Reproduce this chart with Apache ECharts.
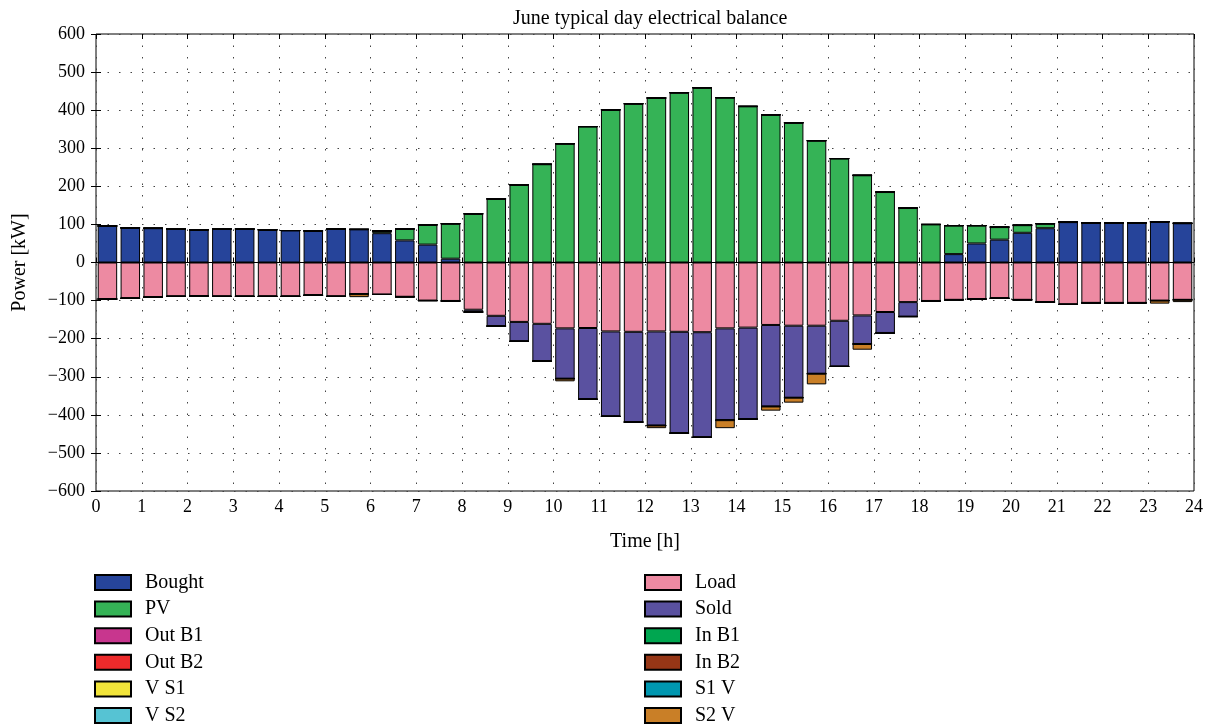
<!DOCTYPE html>
<html lang="en">
<head>
  <meta charset="UTF-8">
  <title>June typical day electrical balance</title>
  <script src="https://cdn.jsdelivr.net/npm/echarts@6/dist/echarts.min.js"></script>
</head>
<body style="margin:0">
  <div id="main" style="width: 1212px;height:726px;"></div>
</body>
<script type="text/javascript">
  // half-hour slots, 48 of them
  var slots = [];
  for (var i = 0; i < 48; i++) slots.push((i * 0.5 + 0.25).toFixed(2));

  // sources (positive side)
  var bought = [96, 91, 90, 88, 86, 88, 88, 86, 84, 83, 88, 87, 77, 58, 47, 10,
    0, 0, 0, 0, 0, 0, 0, 0, 0, 0, 0, 0, 0, 0, 0, 0, 0, 0, 0, 0, 0,
    22, 50, 60, 78, 90, 106, 104, 104, 104, 107, 103];
  var pv = [0, 0, 0, 0, 0, 0, 0, 0, 0, 0, 0, 0, 6, 30, 52, 92,
    128, 167, 204, 258, 312, 357, 401, 417, 432, 446, 459, 433, 410, 388, 367, 320,
    273, 229, 185, 143, 100, 75, 47, 33, 20, 12, 0, 0, 0, 0, 0, 0];
  var outB1 = [0, 0, 0, 0, 0, 0, 0, 0, 0, 0, 0, 0, 0, 0, 0, 0, 0, 0, 0, 0, 0, 0, 0, 0,
    0, 0, 0, 0, 0, 0, 0, 0, 0, 0, 0, 0, 0, 0, 0, 0, 0, 0, 0, 0, 0, 0, 0, 0];
  var outB2 = outB1.slice();
  var vS1 = outB1.slice();
  var vS2 = outB1.slice();

  // sinks (negative side)
  var load = [96, 94, 91, 89, 88, 89, 89, 89, 89, 86, 89, 83, 84, 90, 100, 101,
    124, 140, 156, 161, 173, 172, 181, 182, 181, 182, 183, 173, 171, 164, 166, 166,
    153, 139, 130, 104, 101, 98, 96, 94, 98, 104, 110, 106, 106, 106, 100, 98];
  var sold = [0, 0, 0, 0, 0, 0, 0, 0, 0, 0, 0, 0, 0, 0, 0, 0,
    6, 27, 51, 98, 132, 187, 223, 237, 247, 266, 276, 241, 240, 214, 189, 126,
    120, 75, 55, 38, 0, 0, 0, 0, 0, 0, 0, 0, 0, 0, 0, 0];
  var inB1 = outB1.slice();
  var inB2 = outB1.slice();
  var s1V = outB1.slice();
  var s2V = [0, 0, 0, 0, 0, 0, 0, 0, 0, 0, 0, 8, 0, 0, 0, 0,
    0, 0, 0, 0, 7, 0, 0, 0, 7, 0, 0, 21, 0, 11, 13, 28,
    0, 15, 0, 0, 0, 0, 0, 0, 0, 0, 0, 0, 0, 0, 8, 6];

  var app = echarts.init(document.getElementById('main'));
  var serif = 'Liberation Serif';

  function neg(arr) {
    return arr.map(function (v) { return -v; });
  }

  function bar(name, data, color) {
    return {
      name: name,
      type: 'bar',
      stack: 'balance',
      xAxisIndex: 0,
      yAxisIndex: 0,
      barCategoryGap: '15%',
      itemStyle: {color: color, borderColor: '#000', borderWidth: 1},
      emphasis: {disabled: true},
      data: data
    };
  }

  var series = [
    bar('Bought', bought, '#26449a'),
    bar('PV', pv, '#35b356'),
    bar('Out B1', outB1, '#c8368e'),
    bar('Out B2', outB2, '#ed2a2b'),
    bar('V S1', vS1, '#f1e43a'),
    bar('V S2', vS2, '#56c3d3'),
    bar('Load', neg(load), '#ed8aa2'),
    bar('Sold', neg(sold), '#5a51a0'),
    bar('In B1', neg(inB1), '#00a650'),
    bar('In B2', neg(inB2), '#963616'),
    bar('S1 V', neg(s1V), '#0097b0'),
    bar('S2 V', neg(s2V), '#c97f27')
  ];
  // zero line
  series[0].markLine = {
    silent: true,
    symbol: 'none',
    label: {show: false},
    lineStyle: {color: '#000', type: 'solid', width: 1.2},
    data: [{yAxis: 0}]
  };

  var legendBase = {
    orient: 'vertical',
    icon: 'rect',
    itemWidth: 36,
    itemHeight: 15,
    itemGap: 6.6,
    top: 572.5,
    height: 180,
    padding: 0,
    selectedMode: false,
    textStyle: {fontFamily: serif, fontSize: 20, color: '#000', padding: [0, 0, 0, 9]}
  };

  var grid = {left: 96, right: 18, top: 34, bottom: 235, show: true,
    borderColor: '#000', borderWidth: 1};

  var hourAxis = function (pos, labels) {
    return {
      type: 'value', position: pos, min: 0, max: 24, interval: 1,
      axisLine: {show: false},
      axisTick: {inside: true, length: 5, lineStyle: {color: '#000'}},
      axisLabel: {show: labels, fontFamily: serif, fontSize: 18, color: '#000', margin: 7},
      splitLine: {show: labels, lineStyle: {color: '#444', type: [1.5, 10]}}
    };
  };
  var powerAxis = function (pos, labels) {
    return {
      type: 'value', position: pos, min: -600, max: 600, interval: 100,
      axisLine: {show: false},
      axisTick: {inside: true, length: 5, lineStyle: {color: '#000'}},
      axisLabel: {show: labels, fontFamily: serif, fontSize: 18, color: '#000', margin: 11,
        formatter: function (v) { return v < 0 ? '\u2212' + (-v) : String(v); }},
      splitLine: {show: labels, lineStyle: {color: '#444', type: [1.5, 10]}}
    };
  };

  var xBottom = hourAxis('bottom', true);
  xBottom.name = 'Time [h]';
  xBottom.nameLocation = 'middle';
  xBottom.nameGap = 41;
  xBottom.nameTextStyle = {fontFamily: serif, fontSize: 20, color: '#000'};

  var yLeft = powerAxis('left', true);
  yLeft.name = 'Power [kW]';
  yLeft.nameLocation = 'middle';
  yLeft.nameGap = 66;
  yLeft.nameTextStyle = {fontFamily: serif, fontSize: 20, color: '#000'};

  var option = {
    animation: false,
    backgroundColor: '#fff',
    title: {
      text: 'June typical day electrical balance',
      left: 508, top: 4,
      textStyle: {fontFamily: serif, fontSize: 20, fontWeight: 'normal', color: '#000'}
    },
    legend: [
      Object.assign({}, legendBase, {left: 94, data: ['Bought', 'PV', 'Out B1', 'Out B2', 'V S1', 'V S2']}),
      Object.assign({}, legendBase, {left: 644, data: ['Load', 'Sold', 'In B1', 'In B2', 'S1 V', 'S2 V']})
    ],
    grid: grid,
    xAxis: [
      {type: 'category', data: slots, show: false},
      xBottom,
      hourAxis('top', false)
    ],
    yAxis: [
      yLeft,
      powerAxis('right', false)
    ],
    series: series
  };

  app.setOption(option);
</script>
</html>
